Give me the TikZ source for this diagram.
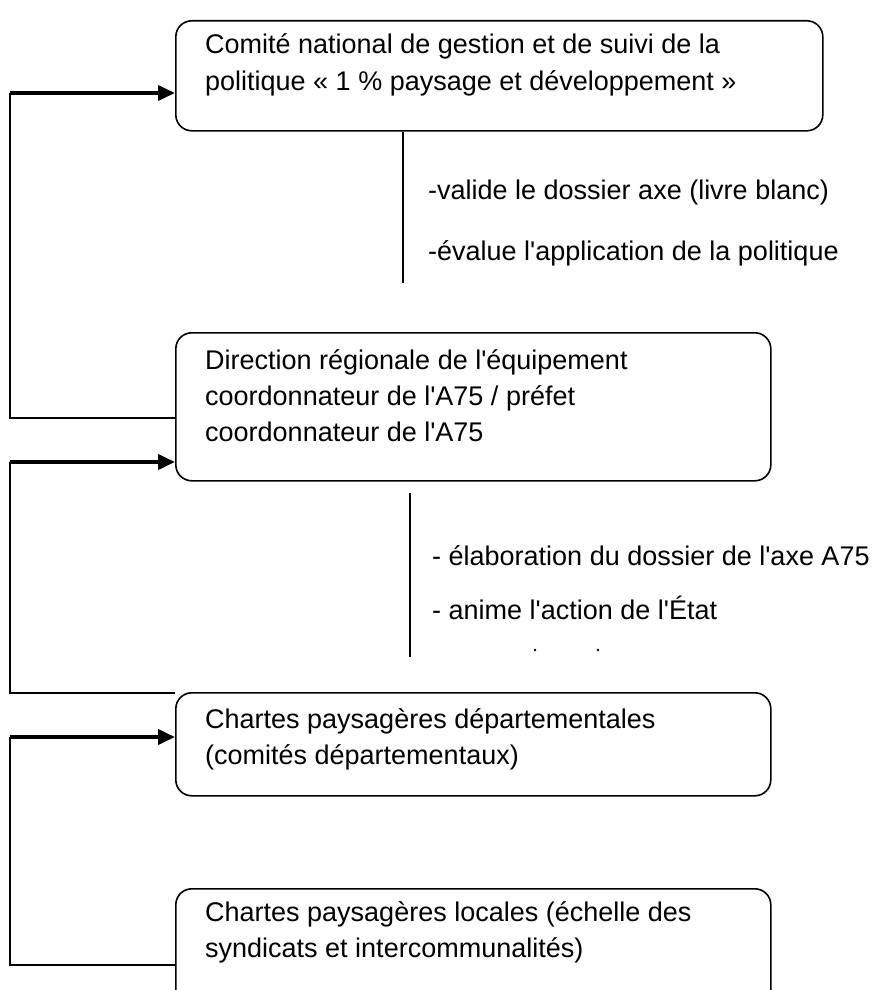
\documentclass[tikz,border=0pt]{standalone}
\usepackage{fontspec}
\setmainfont{Liberation Sans}
\usetikzlibrary{arrows.meta,positioning}

\newcommand{\apos}{\textquotesingle}
\tikzset{
  boite/.style={draw,line width=1.6pt,rounded corners=16pt,inner sep=0pt,anchor=north west},
  texte/.style={anchor=base west,align=left,inner sep=0pt,font=\fontsize{27}{36}\selectfont},
  trait/.style={line width=1.8pt},
  fleche/.style={line width=3.8pt,-{Triangle[length=17pt,width=15pt]}}
}

\begin{document}
\begin{tikzpicture}[x=1pt,y=-1pt]
\useasboundingbox (0,0) rectangle (877,990);
\clip (0,0) rectangle (877,990);
%
\node[boite,minimum width=647pt,minimum height=110pt] (comite) at (175,20) {};
\node[boite,minimum width=595pt,minimum height=148pt] (dreal) at (175,332) {};
\node[boite,minimum width=595pt,minimum height=103pt] (dept) at (175,692) {};
\node[boite,minimum width=595pt,minimum height=130pt] (local) at (175,888) {};
% (base = derniere ligne)
\node[texte] (tcomite) at (205,90) {Comité national de gestion et de suivi de la\\
politique « 1 \% paysage et développement »};
\node[texte] (tdreal) at (205,441) {Direction régionale de l\apos équipement\\
coordonnateur de l\apos A75 / préfet\\
coordonnateur de l\apos A75};
\node[texte] (tdept) at (205,764) {Chartes paysagères départementales\\
(comités départementaux)};
\node[texte] (tlocal) at (205,957) {Chartes paysagères locales (échelle des\\
syndicats et intercommunalités)};
%
\coordinate (v1) at (403,283);
\coordinate (v2h) at (410,493);
\coordinate (v2b) at (410,657);
\draw[trait] (comite.south -| v1) -- (v1);
\draw[trait] (v2h) -- (v2b);
\node[texte] (valide) at (428,199) {-valide le dossier axe (livre blanc)};
\node[texte] (evalue) at (428,260) {-évalue l\apos application de la politique};
\node[texte] (elabo) at (432,565) {- élaboration du dossier de l\apos axe A75};
\node[texte] (anime) at (432,619) {- anime l\apos action de l\apos État};
\fill (535,650) circle (1.3) (598,650) circle (1.3);
%
\coordinate (g1) at (10,93);
\coordinate (b1) at (10,418);
\coordinate (g2) at (10,462);
\coordinate (b2) at (10,693);
\coordinate (g3) at (10,737);
\coordinate (b3) at (10,965);
\draw[trait] (dreal.west |- b1) -- (b1) -- (g1);
\draw[fleche] (g1) -- (comite.west |- g1);
\draw[trait] (dept.west |- b2) -- (b2) -- (g2);
\draw[fleche] (g2) -- (dreal.west |- g2);
\draw[trait] (local.west |- b3) -- (b3) -- (g3);
\draw[fleche] (g3) -- (dept.west |- g3);
\end{tikzpicture}
\end{document}
